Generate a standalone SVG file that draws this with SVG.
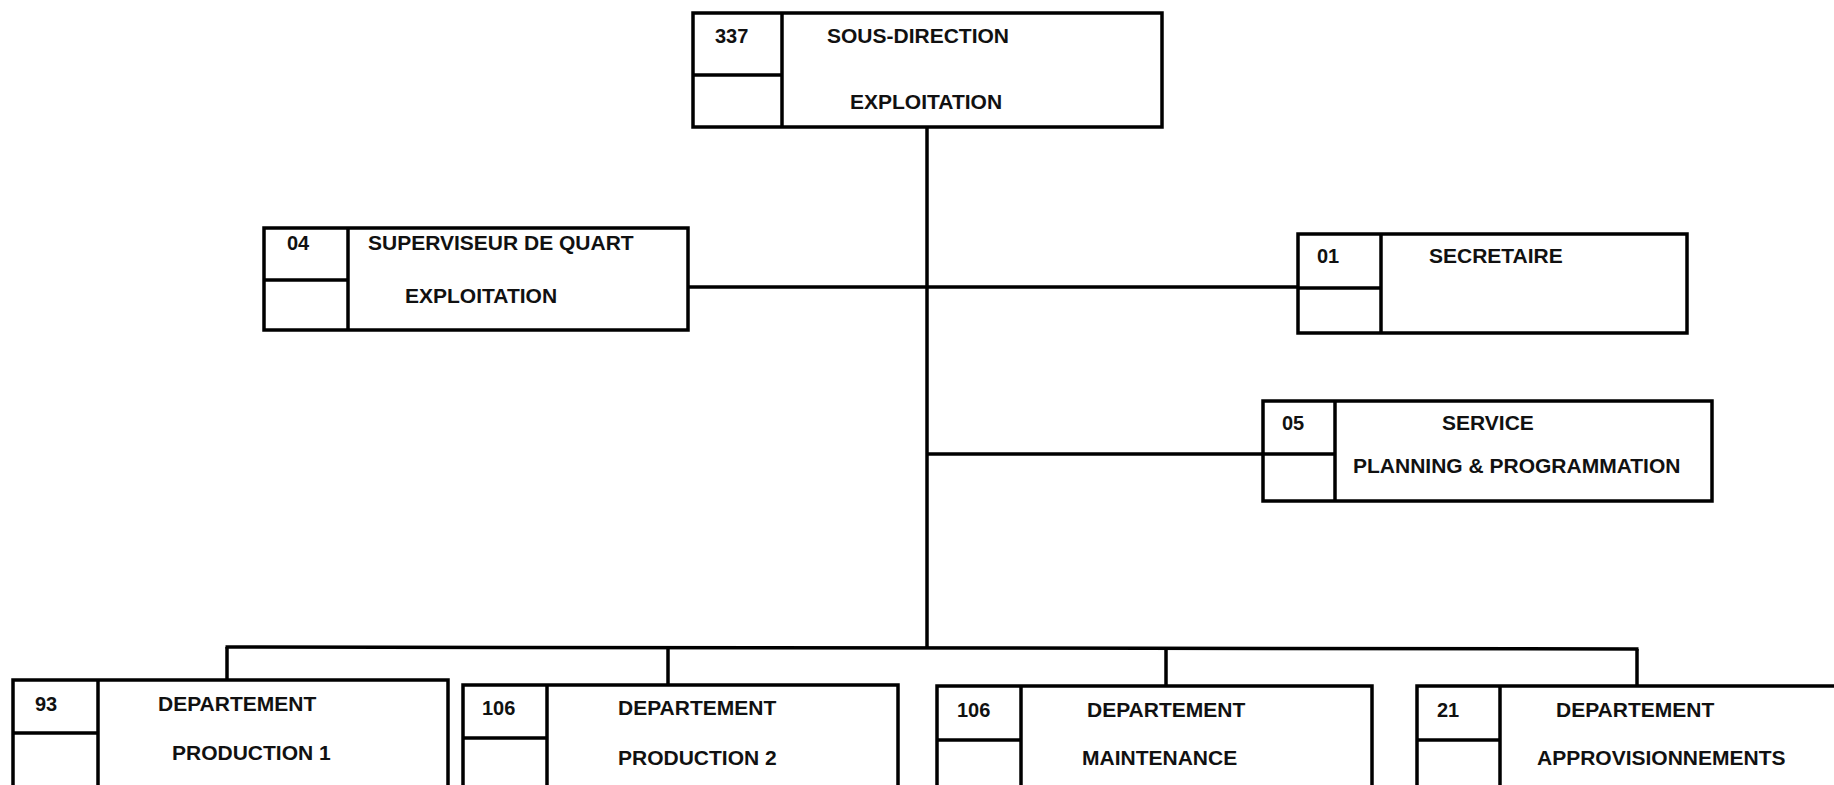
<svg xmlns="http://www.w3.org/2000/svg" width="1834" height="785" viewBox="0 0 1834 785">
<style>
.box{fill:#fff;stroke:#000;stroke-width:3.5}
.ln{fill:none;stroke:#000;stroke-width:3.5}
.t{font-family:"Liberation Sans",Arial,sans-serif;font-weight:bold;font-size:21px;fill:#111}
.n{font-family:"Liberation Sans",Arial,sans-serif;font-weight:bold;font-size:20px;fill:#111}
</style>
<rect x="0" y="0" width="1834" height="785" fill="#fff"/>
<g id="connectors">
<line class="ln" x1="927" y1="127" x2="927" y2="648"/>
<line class="ln" x1="688" y1="287" x2="1298" y2="287"/>
<line class="ln" x1="927" y1="454" x2="1263" y2="454"/>
<line class="ln" x1="225.5" y1="647" x2="1638.5" y2="649"/>
<line class="ln" x1="227" y1="647" x2="227" y2="680"/>
<line class="ln" x1="668" y1="648" x2="668" y2="685"/>
<line class="ln" x1="1166" y1="648" x2="1166" y2="686"/>
<line class="ln" x1="1637" y1="649" x2="1637" y2="686"/>
</g>
<g id="node-sous-direction">
<rect class="box" x="693" y="13" width="469" height="114"/>
<line class="ln" x1="782" y1="13" x2="782" y2="127"/>
<line class="ln" x1="693" y1="75" x2="782" y2="75"/>
<text class="n" x="715" y="43">337</text>
<text class="t" x="827" y="43">SOUS-DIRECTION</text>
<text class="t" x="850" y="109">EXPLOITATION</text>
</g>
<g id="node-superviseur">
<rect class="box" x="264" y="228" width="424" height="102"/>
<line class="ln" x1="348" y1="228" x2="348" y2="330"/>
<line class="ln" x1="264" y1="280" x2="348" y2="280"/>
<text class="n" x="287" y="250">04</text>
<text class="t" x="368" y="250">SUPERVISEUR DE QUART</text>
<text class="t" x="405" y="303">EXPLOITATION</text>
</g>
<g id="node-secretaire">
<rect class="box" x="1298" y="234" width="389" height="99"/>
<line class="ln" x1="1381" y1="234" x2="1381" y2="333"/>
<line class="ln" x1="1298" y1="288" x2="1381" y2="288"/>
<text class="n" x="1317" y="263">01</text>
<text class="t" x="1429" y="263">SECRETAIRE</text>
</g>
<g id="node-service">
<rect class="box" x="1263" y="401" width="449" height="100"/>
<line class="ln" x1="1335" y1="401" x2="1335" y2="501"/>
<line class="ln" x1="1263" y1="454" x2="1335" y2="454"/>
<text class="n" x="1282" y="430">05</text>
<text class="t" x="1442" y="430">SERVICE</text>
<text class="t" x="1353" y="473">PLANNING &amp; PROGRAMMATION</text>
</g>
<g id="node-production1">
<rect class="box" x="13" y="680" width="435" height="130"/>
<line class="ln" x1="98" y1="680" x2="98" y2="800"/>
<line class="ln" x1="13" y1="733" x2="98" y2="733"/>
<text class="n" x="35" y="711">93</text>
<text class="t" x="158" y="711">DEPARTEMENT</text>
<text class="t" x="172" y="760">PRODUCTION 1</text>
</g>
<g id="node-production2">
<rect class="box" x="463" y="685" width="435" height="130"/>
<line class="ln" x1="547" y1="685" x2="547" y2="800"/>
<line class="ln" x1="463" y1="738" x2="547" y2="738"/>
<text class="n" x="482" y="715">106</text>
<text class="t" x="618" y="715">DEPARTEMENT</text>
<text class="t" x="618" y="765">PRODUCTION 2</text>
</g>
<g id="node-maintenance">
<rect class="box" x="937" y="686" width="435" height="130"/>
<line class="ln" x1="1021" y1="686" x2="1021" y2="800"/>
<line class="ln" x1="937" y1="740" x2="1021" y2="740"/>
<text class="n" x="957" y="717">106</text>
<text class="t" x="1087" y="717">DEPARTEMENT</text>
<text class="t" x="1082" y="765">MAINTENANCE</text>
</g>
<g id="node-approvisionnements">
<rect class="box" x="1417" y="686" width="440" height="130"/>
<line class="ln" x1="1500" y1="686" x2="1500" y2="800"/>
<line class="ln" x1="1417" y1="740" x2="1500" y2="740"/>
<text class="n" x="1437" y="717">21</text>
<text class="t" x="1556" y="717">DEPARTEMENT</text>
<text class="t" x="1537" y="765">APPROVISIONNEMENTS</text>
</g>
</svg>
